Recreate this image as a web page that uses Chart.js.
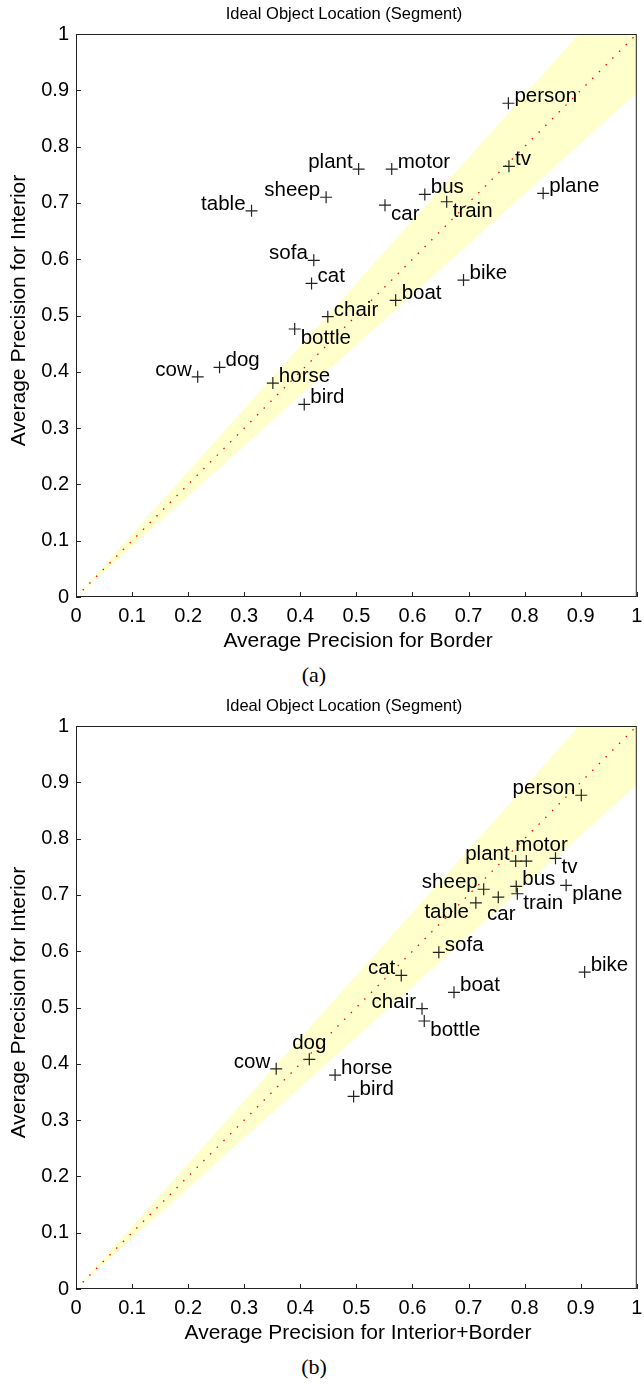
<!DOCTYPE html>
<html>
<head>
<meta charset="utf-8">
<script src="https://cdn.jsdelivr.net/npm/chart.js@4.4.1/dist/chart.umd.min.js"></script>
<style>
  html, body { margin: 0; background: #fff; overflow: hidden; }
  .wrap { position: absolute; left: 0; width: 644px; height: 660px; }
  .cap { position: absolute; left: 0; width: 628px; text-align: center; font: 22px "Liberation Serif", serif; color: #000; line-height: 26px; }
</style>
</head>
<body>
<div class="wrap" style="top:0"><canvas id="chartA"></canvas></div>
<div class="cap" style="top:662px">(a)</div>
<div class="wrap" style="top:692px"><canvas id="chartB"></canvas></div>
<div class="cap" style="top:1354px">(b)</div>
<script>
// PASCAL VOC classes
const categories = ['plane', 'bike', 'bird', 'boat', 'bottle', 'bus', 'car', 'cat', 'chair', 'cow',
                    'table', 'dog', 'horse', 'motor', 'person', 'plant', 'sheep', 'sofa', 'train', 'tv'];
const interiorAP = [0.717, 0.563, 0.342, 0.527, 0.476, 0.715, 0.696, 0.557, 0.498, 0.391,
                    0.686, 0.408, 0.380, 0.760, 0.877, 0.760, 0.710, 0.598, 0.702, 0.765];
const borderAP = [0.833, 0.691, 0.407, 0.570, 0.390, 0.622, 0.551, 0.420, 0.449, 0.217,
                  0.313, 0.256, 0.351, 0.563, 0.771, 0.504, 0.446, 0.424, 0.661, 0.772];
const interiorBorderAP = [0.874, 0.907, 0.495, 0.674, 0.621, 0.785, 0.753, 0.580, 0.617, 0.357,
                          0.713, 0.416, 0.462, 0.803, 0.901, 0.784, 0.727, 0.647, 0.787, 0.855];
const tickValues = [0, 0.1, 0.2, 0.3, 0.4, 0.5, 0.6, 0.7, 0.8, 0.9, 1];
const tickLabels = ['0', '0.1', '0.2', '0.3', '0.4', '0.5', '0.6', '0.7', '0.8', '0.9', '1'];
const diagonal = [{x: 0, y: 0}, {x: 1, y: 1}];
// slopes of the yellow band edges
const bandUpper = 1.115;
const bandLower = 0.895;

// where each class name sits next to its marker
const placeA = ['ne', 'ne', 'ne', 'ne', 'se', 'ne', 'se', 'ne', 'ne', 'nw',
                'nw', 'ne', 'ne', 'ne', 'ne', 'nw', 'nw', 'nw', 'se', 'ne'];
const placeB = ['se', 'ne', 'ne', 'ne', 'se', 'ne', 's', 'nw', 'nw', 'nw',
                'sw', 'n', 'ne', 'nr', 'nw', 'nw', 'nw', 'ne', 'se', 'se'];
const offsets = {
    ne: ['left', 6, -1],
    nw: ['right', -6, -1],
    se: ['left', 6, 15],
    sw: ['right', -7, 15],
    s:  ['center', 3, 23],
    n:  ['center', 0, -10],
    nr: ['left', -11, -10]
};

const fontFamily = '"Liberation Sans", Arial, sans-serif';
const boxColor = '#222';

// yellow band, frame, inward ticks, tick labels, titles and class labels
const decorPlugin = {
    id: 'decor',
    beforeDatasetsDraw(chart) {
        const {ctx, chartArea, scales: {x, y}} = chart;
        ctx.save();
        ctx.beginPath();
        ctx.rect(chartArea.left, chartArea.top, chartArea.width, chartArea.height);
        ctx.clip();
        ctx.fillStyle = '#ffffcc';
        ctx.beginPath();
        ctx.moveTo(x.getPixelForValue(0), y.getPixelForValue(0));
        ctx.lineTo(x.getPixelForValue(1 / bandUpper), y.getPixelForValue(1));
        ctx.lineTo(x.getPixelForValue(1), y.getPixelForValue(1));
        ctx.lineTo(x.getPixelForValue(1), y.getPixelForValue(bandLower));
        ctx.closePath();
        ctx.fill();
        ctx.restore();
    },
    afterDatasetsDraw(chart, args, opts) {
        const {ctx, chartArea: a, scales: {x, y}} = chart;
        ctx.save();
        ctx.strokeStyle = boxColor;
        ctx.lineWidth = 1;
        ctx.strokeRect(a.left + 0.5, a.top + 0.5, a.width - 1, a.height - 1);
        ctx.beginPath();
        tickValues.forEach(v => {
            const px = Math.round(x.getPixelForValue(v)) + 0.5;
            ctx.moveTo(px, a.bottom);
            ctx.lineTo(px, a.bottom - 5);
            const py = Math.round(y.getPixelForValue(v)) + 0.5;
            ctx.moveTo(a.left, py);
            ctx.lineTo(a.left + 5, py);
        });
        ctx.stroke();

        ctx.fillStyle = '#000';
        ctx.font = '20px ' + fontFamily;
        ctx.textBaseline = 'middle';
        tickValues.forEach((v, i) => {
            ctx.textAlign = 'center';
            ctx.fillText(tickLabels[i], x.getPixelForValue(v), a.bottom + 19);
            ctx.textAlign = 'right';
            ctx.fillText(tickLabels[i], a.left - 7, y.getPixelForValue(v));
        });

        // titles
        ctx.textAlign = 'center';
        ctx.font = '16.5px ' + fontFamily;
        ctx.fillText(opts.title, 344, 14);
        ctx.font = '21px ' + fontFamily;
        ctx.fillText(opts.xTitle, 358, 641);
        ctx.save();
        ctx.translate(19, (a.top + a.bottom) / 2 - 5);
        ctx.rotate(-Math.PI / 2);
        ctx.fillText(opts.yTitle, 0, 0);
        ctx.restore();

        // class names
        const meta = chart.getDatasetMeta(1);
        ctx.font = '20.5px ' + fontFamily;
        ctx.textBaseline = 'alphabetic';
        meta.data.forEach((pt, i) => {
            const o = offsets[opts.place[i]];
            ctx.textAlign = o[0];
            ctx.fillText(categories[i], pt.x + o[1], pt.y + o[2]);
        });
        ctx.restore();
    }
};

function makeChart(id, xValues, xTitle, place) {
    const points = categories.map((c, i) => ({x: xValues[i], y: interiorAP[i]}));
    new Chart(document.getElementById(id), {
        type: 'scatter',
        data: {
            datasets: [{
                data: diagonal,
                showLine: true,
                borderColor: '#ff0000',
                borderWidth: 1.3,
                borderDash: [1.5, 8],
                pointRadius: 0,
                fill: false
            }, {
                data: points,
                pointStyle: 'cross',
                pointRadius: 6,
                pointBorderColor: '#222',
                pointBorderWidth: 1.2,
                pointBackgroundColor: '#222'
            }]
        },
        options: {
            responsive: true,
            maintainAspectRatio: false,
            animation: false,
            layout: { padding: { top: 34, right: 1.5, bottom: 0, left: 0 } },
            plugins: {
                legend: { display: false },
                tooltip: { enabled: false },
                title: { display: false },
                decor: {
                    place: place,
                    title: 'Ideal Object Location (Segment)',
                    xTitle: xTitle,
                    yTitle: 'Average Precision for Interior'
                }
            },
            scales: {
                x: {
                    type: 'linear',
                    min: 0,
                    max: 1,
                    afterFit: s => { s.height = 63; },
                    grid: { display: false, drawTicks: false },
                    border: { display: false },
                    ticks: { display: false }
                },
                y: {
                    type: 'linear',
                    min: 0,
                    max: 1,
                    afterFit: s => { s.width = 76; },
                    grid: { display: false, drawTicks: false },
                    border: { display: false },
                    ticks: { display: false }
                }
            }
        },
        plugins: [decorPlugin]
    });
}

makeChart('chartA', borderAP, 'Average Precision for Border', placeA);
makeChart('chartB', interiorBorderAP, 'Average Precision for Interior+Border', placeB);
</script>
</body>
</html>
